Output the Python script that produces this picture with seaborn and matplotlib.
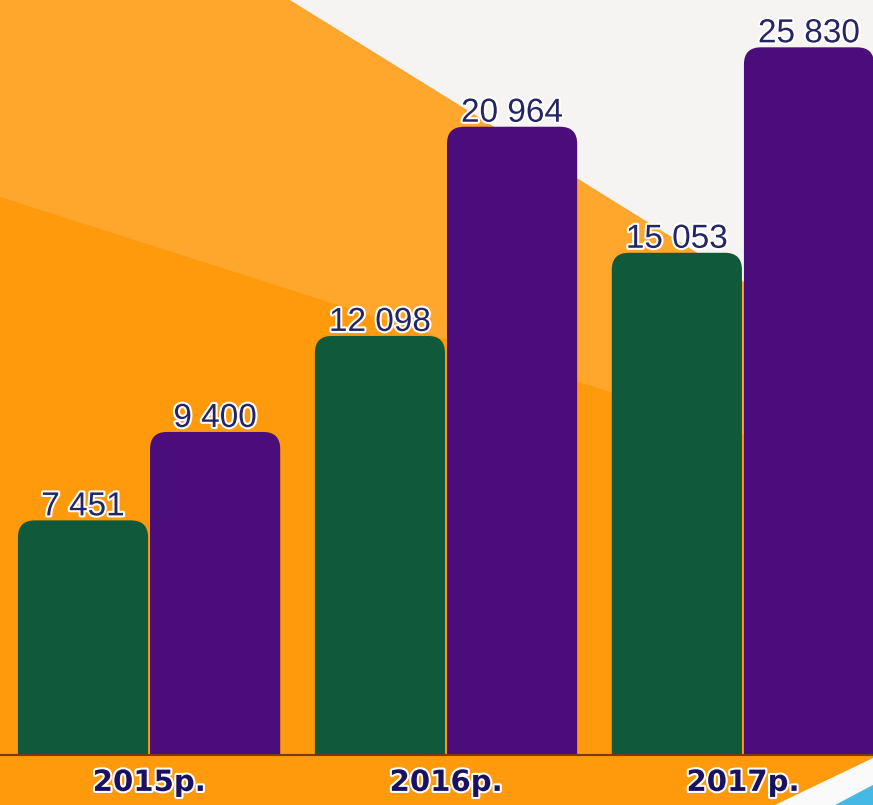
import numpy as np
import pandas as pd
import seaborn as sns
import matplotlib.pyplot as plt
import matplotlib.patheffects as pe
from matplotlib.patches import FancyBboxPatch, Polygon
from matplotlib.transforms import IdentityTransform

# data
years = ['2015р.', '2016р.', '2017р.']
series_names = ['Серія 1', 'Серія 2']
series_1 = [7451, 12098, 15053]
series_2 = [9400, 20964, 25830]
bar_colors = ['#10593a', '#4b0c7c']

df = pd.DataFrame({
    'year': years * 2,
    'series': [series_names[0]] * len(years) + [series_names[1]] * len(years),
    'value': series_1 + series_2,
})

W, H = 873, 805
fig = plt.figure(figsize=(W / 100, H / 100), dpi=100)

# background shapes (pixel coords, y down)
bg = fig.add_axes([0, 0, 1, 1])
bg.set_xlim(0, W)
bg.set_ylim(H, 0)
bg.axis('off')
bg.add_patch(Polygon([(0, 0), (W, 0), (W, H), (0, H)], color='#ffa62c', lw=0))
bg.add_patch(Polygon([(290, 0), (W, 0), (W, 362)], color='#f6f4f2', lw=0))
bg.add_patch(Polygon([(0, 197), (W, 476), (W, H), (0, H)], color='#ff9a0c', lw=0))
bg.add_patch(Polygon([(775, H), (W, 758), (W, H)], color='#fafafa', lw=0))
bg.add_patch(Polygon([(835, H), (W, 785), (W, H)], color='#45b8e6', lw=0))

ax = fig.add_axes([0, 50 / H, 1, 755 / H])
ax.set_facecolor('none')
ax.set_yscale('log')
sns.barplot(data=df, x='year', y='value', hue='series', palette=bar_colors,
            saturation=1, width=0.89, gap=0.015, legend=False, ax=ax)
ax.set_xlim(-0.502, 2.438)
ax.set_ylim(4022, 29250)
ax.yaxis.set_visible(False)
ax.set_xlabel('')
for s in ['top', 'left', 'right']:
    ax.spines[s].set_visible(False)
ax.spines['bottom'].set_color('#7b3a12')
ax.spines['bottom'].set_linewidth(1.5)
ax.spines['bottom'].set_zorder(5)

# rounded tops for the bars
y0_px = ax.transAxes.transform((0, 0))[1]
bars = [p for p in ax.patches]
for bar in bars:
    x, w = bar.get_x(), bar.get_width()
    top = bar.get_y() + bar.get_height()
    x0, y1 = ax.transData.transform((x, top))
    x1, _ = ax.transData.transform((x + w, top))
    rb = FancyBboxPatch((x0, y0_px - 30), x1 - x0, y1 - y0_px + 30,
                        boxstyle='round,pad=0,rounding_size=17',
                        transform=IdentityTransform(),
                        facecolor=bar.get_facecolor(), edgecolor='none', zorder=2)
    ax.add_artist(rb)
    rb.set_clip_path(ax.patch)
    bar.set_visible(False)

    val = int(round(bar.get_height()))
    ax.annotate(f"{val:,}".replace(',', ' '), (x + w / 2, top),
                xytext=(0, 5), textcoords='offset pixels',
                ha='center', va='baseline', fontsize=24, color='#252565',
                family=['Liberation Sans', 'DejaVu Sans'], zorder=4,
                path_effects=[pe.withStroke(linewidth=3, foreground='white')])

ax.tick_params(axis='x', length=0, pad=10)
ax.set_xticks(range(len(years)))
ax.set_xticklabels(years, fontsize=21, fontweight='heavy', color='#1a1260',
                   family=['DejaVu Sans'])
for t in ax.get_xticklabels():
    t.set_path_effects([pe.withStroke(linewidth=3, foreground='white')])

plt.savefig('out.png', dpi=100)
